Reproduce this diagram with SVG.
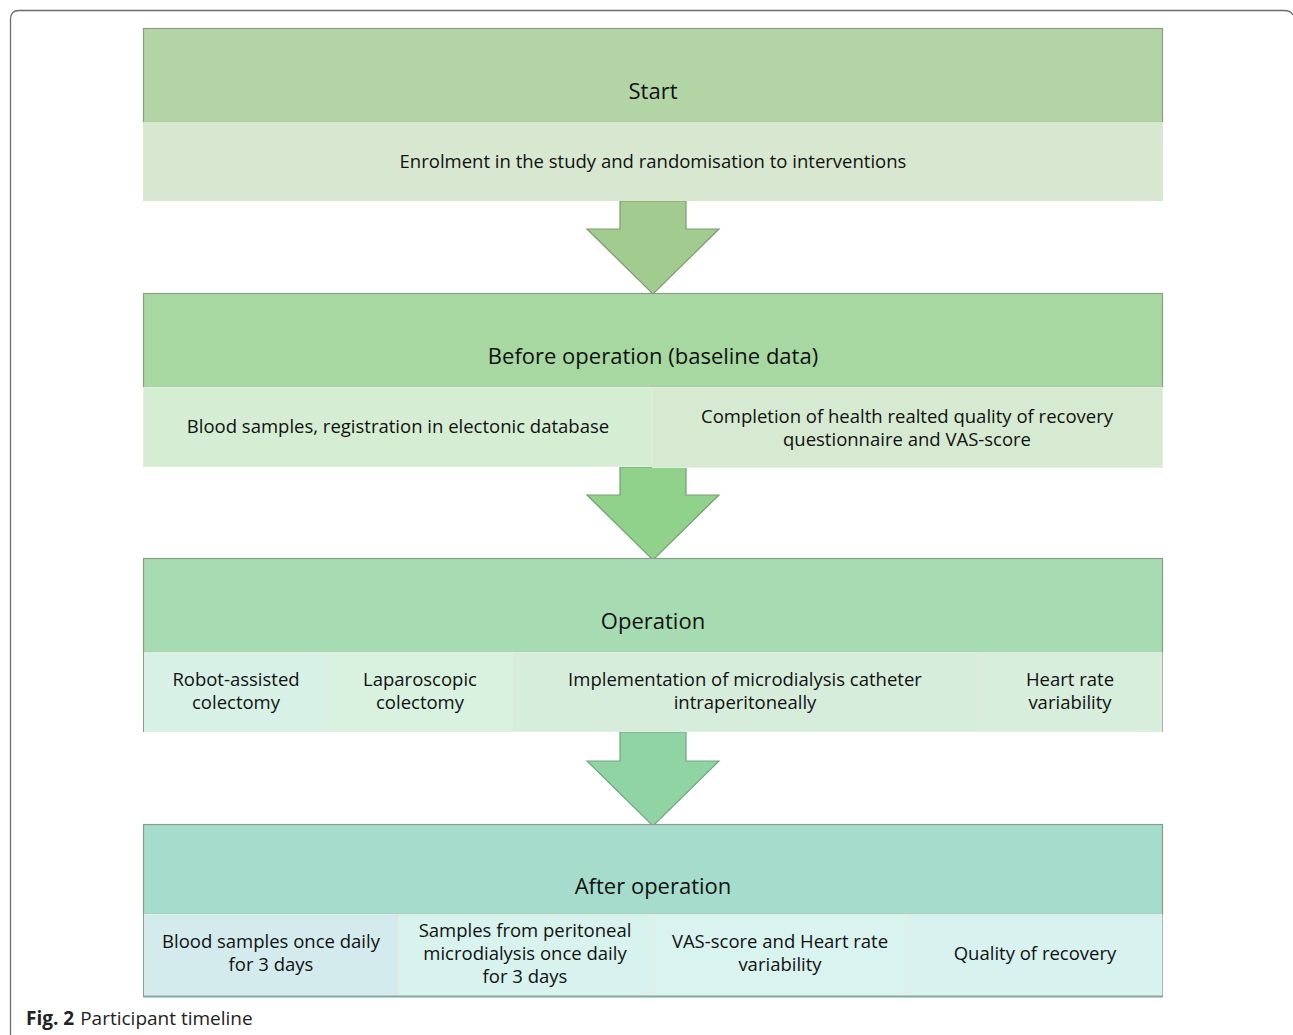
<svg xmlns="http://www.w3.org/2000/svg" width="1293" height="1035" viewBox="0 0 1293 1035">
<style>
.hd{stroke:#8d9c88;stroke-width:1.2}
.cell{stroke:#e4ece2;stroke-width:1}
.t{font-family:"Open Sans","Liberation Sans",sans-serif;font-size:18.5px;fill:#111;text-anchor:middle}
.h{font-family:"Open Sans","Liberation Sans",sans-serif;font-size:22px;fill:#111;text-anchor:middle}
.arr{stroke-width:1.2;stroke-linejoin:miter}
</style>
<rect width="1293" height="1035" fill="#ffffff"/>
<path d="M10.5,1035 V19 Q10.5,10.5 19,10.5 H1284 Q1291,10.5 1293,15" fill="none" stroke="#6b6b6b" stroke-width="1.3"/>
<g id="connectors">
<polygon class="arr" points="620,201 686,201 686,229 719,229 653,294 587,229 620,229" fill="#a2cc8f" stroke="#7c9a70"/>
<polygon class="arr" points="620,467 686,467 686,495 719,495 653,560 587,495 620,495" fill="#90d18b" stroke="#74a070"/>
<polygon class="arr" points="620,732 686,732 686,761 719,761 653,826 587,761 620,761" fill="#8fd4a2" stroke="#72a383"/>
</g>
<g id="start">
<rect class="hd" x="143.5" y="28.5" width="1019" height="94" fill="#b3d5a5"/>
<rect x="143" y="122" width="1020" height="79" fill="#d8e8d0"/>
<text class="h" x="653" y="99">Start</text>
<text class="t" x="653" y="168">Enrolment in the study and randomisation to interventions</text>
</g>
<g id="before">
<rect class="hd" x="143.5" y="293.5" width="1019" height="94" fill="#a7d8a1"/>
<rect class="cell" x="143.5" y="387.5" width="509" height="79" fill="#d5eed3"/>
<rect class="cell" x="652.5" y="387.5" width="510" height="80" fill="#d5ead0"/>
<text class="h" x="653" y="364">Before operation (baseline data)</text>
<text class="t" x="398" y="433">Blood samples, registration in electonic database</text>
<text class="t" x="907" y="423">Completion of health realted quality of recovery</text>
<text class="t" x="907" y="446">questionnaire and VAS-score</text>
</g>
<g id="operation">
<rect class="hd" x="143.5" y="558.5" width="1019" height="94" fill="#a7dcb3"/>
<rect class="cell" x="143.5" y="652.5" width="185" height="79" fill="#d8f1e6"/>
<rect class="cell" x="328.5" y="652.5" width="184" height="79" fill="#d9f2e0"/>
<rect class="cell" x="512.5" y="652.5" width="465" height="79" fill="#d7eddb"/>
<rect class="cell" x="977.5" y="652.5" width="185" height="79" fill="#d6eedb"/>
<line x1="143.5" y1="652" x2="143.5" y2="732" stroke="#8d9c88" stroke-width="1"/>
<line x1="1162.5" y1="652" x2="1162.5" y2="732" stroke="#aab5a8" stroke-width="1"/>
<text class="h" x="653" y="629">Operation</text>
<text class="t" x="236" y="686">Robot-assisted</text>
<text class="t" x="236" y="709">colectomy</text>
<text class="t" x="420" y="686">Laparoscopic</text>
<text class="t" x="420" y="709">colectomy</text>
<text class="t" x="745" y="686">Implementation of microdialysis catheter</text>
<text class="t" x="745" y="709">intraperitoneally</text>
<text class="t" x="1070" y="686">Heart rate</text>
<text class="t" x="1070" y="709">variability</text>
</g>
<g id="after">
<rect class="hd" x="143.5" y="824.5" width="1019" height="90" fill="#a6dccb"/>
<rect class="cell" x="143.5" y="914.5" width="255" height="81" fill="#d3ebec"/>
<rect class="cell" x="398.5" y="914.5" width="254" height="81" fill="#d8f3ed"/>
<rect class="cell" x="652.5" y="914.5" width="256" height="81" fill="#d9f3ee"/>
<rect class="cell" x="908.5" y="914.5" width="254" height="81" fill="#d8f3ef"/>
<line x1="143.5" y1="914" x2="143.5" y2="996" stroke="#8d9c98" stroke-width="1"/>
<line x1="1162.5" y1="914" x2="1162.5" y2="996" stroke="#a9b8b5" stroke-width="1"/>
<line x1="143" y1="996.5" x2="1163" y2="996.5" stroke="#7fa8a2" stroke-width="2"/>
<text class="h" x="653" y="894">After operation</text>
<text class="t" x="271" y="948">Blood samples once daily</text>
<text class="t" x="271" y="971">for 3 days</text>
<text class="t" x="525" y="937">Samples from peritoneal</text>
<text class="t" x="525" y="960">microdialysis once daily</text>
<text class="t" x="525" y="983">for 3 days</text>
<text class="t" x="780" y="948">VAS-score and Heart rate</text>
<text class="t" x="780" y="971">variability</text>
<text class="t" x="1035" y="960">Quality of recovery</text>
</g>
<g id="caption">
<text x="26" y="1025" font-family="'Open Sans','Liberation Sans',sans-serif" font-size="19" fill="#222"><tspan font-weight="bold">Fig. 2</tspan><tspan dx="6">Participant timeline</tspan></text>
</g>
</svg>
